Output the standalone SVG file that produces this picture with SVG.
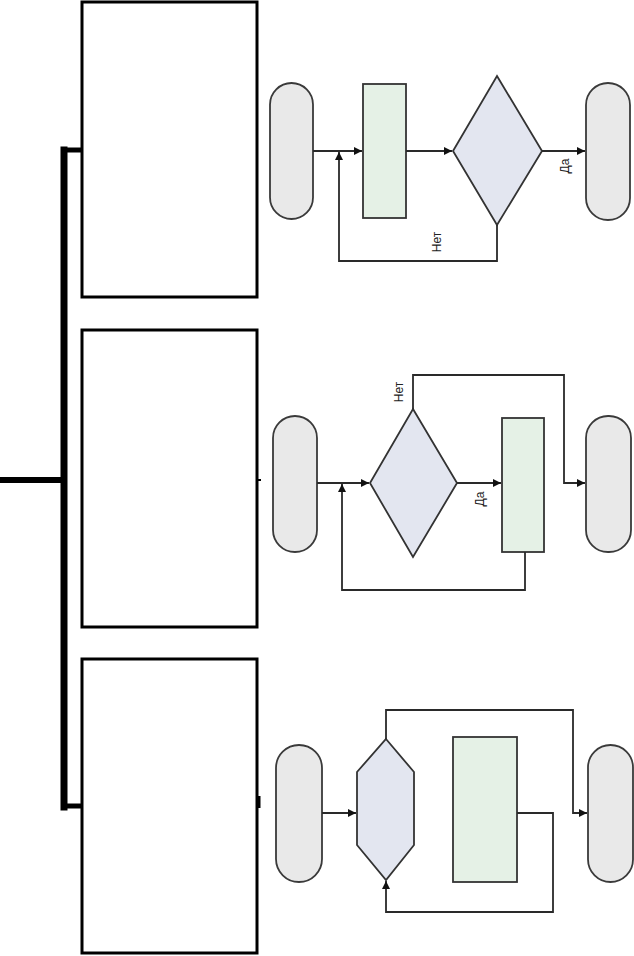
<svg xmlns="http://www.w3.org/2000/svg" width="634" height="956" viewBox="0 0 634 956">
<style>
.box{fill:#fff;stroke:#000;stroke-width:3}
.bus{fill:none;stroke:#000;stroke-linecap:square}
.term{fill:#e9e9e9;stroke:#3a3a3a;stroke-width:1.8}
.proc{fill:#e5f1e6;stroke:#333;stroke-width:1.8}
.dec{fill:#e3e6f0;stroke:#333;stroke-width:1.8}
.ln{fill:none;stroke:#2a2a2a;stroke-width:1.8}
.lbl{font-family:"Liberation Sans",Arial,sans-serif;font-size:12px;fill:#222;text-anchor:middle}
</style>
<defs>
<marker id="arr" viewBox="0 0 10 10" refX="10" refY="5" markerWidth="4.5" markerHeight="4.5" orient="auto" markerUnits="strokeWidth">
<path d="M0,0 L10,5 L0,10 z" fill="#111"/>
</marker>
</defs>
<rect width="634" height="956" fill="#fff"/>
<g id="bus">
<path class="bus" d="M64,150 V807" stroke-width="7"/>
<path class="bus" d="M0,480 H64" stroke-width="6"/>
<path class="bus" d="M64,150 H82" stroke-width="5"/>
<path class="bus" d="M64,806 H82" stroke-width="5"/>
</g>
<g id="box1"><rect class="box" x="82" y="2" width="175" height="295"/></g>
<g id="box2"><rect class="box" x="82" y="330" width="175" height="297"/></g>
<g id="box3"><rect class="box" x="82" y="659" width="175" height="294"/></g>
<g id="stubs">
<path d="M257,480 H261" stroke="#000" stroke-width="2"/>
<path d="M259,796 V808" stroke="#000" stroke-width="3"/>
</g>
<!-- Flowchart 1 -->
<g id="f1-start"><rect class="term" x="270" y="83" width="43" height="136" rx="21.5"/></g>
<g id="f1-proc"><rect class="proc" x="363" y="84" width="43" height="134"/></g>
<g id="f1-dec"><polygon class="dec" points="497,76 542,151 497,225 453,151"/></g>
<g id="f1-end"><rect class="term" x="586" y="83" width="44" height="137" rx="22"/></g>
<!-- Flowchart 2 -->
<g id="f2-start"><rect class="term" x="273" y="416" width="44" height="136" rx="22"/></g>
<g id="f2-dec"><polygon class="dec" points="413,409 457,483 413,557 370,483"/></g>
<g id="f2-proc"><rect class="proc" x="502" y="418" width="42" height="134"/></g>
<g id="f2-end"><rect class="term" x="586" y="416" width="45" height="136" rx="22"/></g>
<!-- Flowchart 3 -->
<g id="f3-start"><rect class="term" x="276" y="745" width="46" height="137" rx="23"/></g>
<g id="f3-dec"><polygon class="dec" points="386,739 414,772 414,845 386,880 357,845 357,772"/></g>
<g id="f3-proc"><rect class="proc" x="453" y="737" width="64" height="145"/></g>
<g id="f3-end"><rect class="term" x="588" y="745" width="45" height="137" rx="22.5"/></g>
<g id="connectors">
<path class="ln" d="M313,151 H362" marker-end="url(#arr)"/>
<path class="ln" d="M406,151 H452" marker-end="url(#arr)"/>
<path class="ln" d="M542,151 H585" marker-end="url(#arr)"/>
<path class="ln" d="M497,225 V261 H339 V152" marker-end="url(#arr)"/>
<path class="ln" d="M317,483 H369" marker-end="url(#arr)"/>
<path class="ln" d="M457,483 H501" marker-end="url(#arr)"/>
<path class="ln" d="M525,552 V590 H342 V484" marker-end="url(#arr)"/>
<path class="ln" d="M413,409 V375 H564 V483 H585" marker-end="url(#arr)"/>
<path class="ln" d="M322,813 H356" marker-end="url(#arr)"/>
<path class="ln" d="M517,813 H553 V912 H386 V881" marker-end="url(#arr)"/>
<path class="ln" d="M386,739 V710 H573 V813 H587" marker-end="url(#arr)"/>
</g>
<g id="labels">
<text class="lbl" transform="translate(569,166) rotate(-90)">Да</text>
<text class="lbl" transform="translate(441,242) rotate(-90)">Нет</text>
<text class="lbl" transform="translate(484,499) rotate(-90)">Да</text>
<text class="lbl" transform="translate(403,392) rotate(-90)">Нет</text>
</g>
</svg>
